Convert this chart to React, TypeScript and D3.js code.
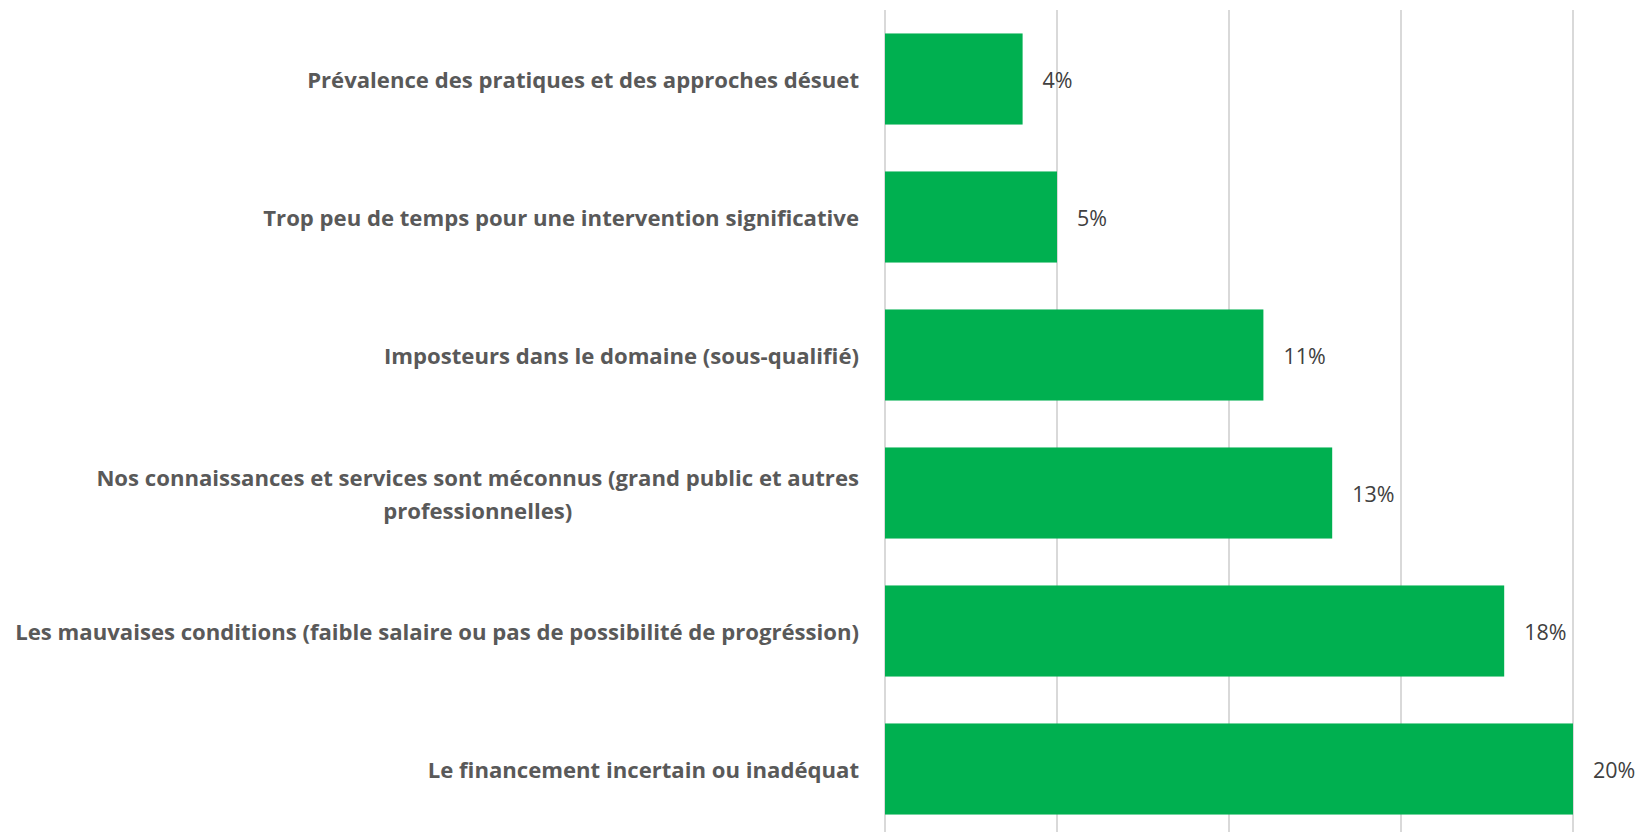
import React, { useEffect, useRef } from "react";
import * as d3 from "d3";

const categories: string[][] = [
  ["Prévalence des pratiques et des approches désuet"],
  ["Trop peu de temps pour une intervention significative"],
  ["Imposteurs dans le domaine (sous-qualifié)"],
  ["Nos connaissances et services sont méconnus (grand public et autres", "professionnelles)"],
  ["Les mauvaises conditions (faible salaire ou pas de possibilité de progréssion)"],
  ["Le financement incertain ou inadéquat"],
];
const values: number[] = [4, 5, 11, 13, 18, 20];
const xTicks: number[] = [0, 5, 10, 15, 20];

const W = 1648;
const H = 832;
const FONT = "'Open Sans', Lato, sans-serif";

export default function App() {
  const ref = useRef<SVGSVGElement>(null);
  useEffect(() => {
    document.body.style.margin = "0";
    const svg = d3.select(ref.current);
    svg.selectAll("*").remove();
    const x0 = 885, x1 = 1573;
    const x = d3.scaleLinear().domain([0, 20]).range([x0, x1]);
    const y = d3
      .scaleBand<number>()
      .domain(d3.range(categories.length))
      .range([10, 838])
      .paddingInner(0.34)
      .paddingOuter(0.17);

    svg
      .append("g")
      .selectAll("line")
      .data(xTicks)
      .join("line")
      .attr("x1", (d) => x(d))
      .attr("x2", (d) => x(d))
      .attr("y1", 10)
      .attr("y2", H)
      .attr("stroke", "#d9d9d9")
      .attr("stroke-width", 2);

    svg
      .append("g")
      .selectAll("rect")
      .data(values)
      .join("rect")
      .attr("x", x(0))
      .attr("y", (_, i) => y(i)!)
      .attr("width", (d) => x(d) - x(0))
      .attr("height", y.bandwidth())
      .attr("fill", "#00B050");

    const labelRight = 859;
    const target = 844; // measured width of the longest label in the reference
    const lineH = 33;
    const lg = svg.append("g");
    let fs = 21;
    const probe = svg
      .append("text")
      .attr("font-family", FONT)
      .attr("font-weight", "bold")
      .attr("font-size", fs)
      .text(categories[4][0]);
    const pw = (probe.node() as SVGTextElement).getComputedTextLength();
    probe.remove();
    fs = Math.max(18, Math.min(24, (fs * target) / pw));

    svg
      .append("g")
      .selectAll("text")
      .data(values)
      .join("text")
      .attr("x", (d) => x(d) + 20)
      .attr("y", (_, i) => y(i)! + y.bandwidth() / 2)
      .attr("dy", "0.42em")
      .attr("font-family", FONT)
      .attr("font-size", fs * 0.97)
      .attr("fill", "#404040")
      .text((d) => `${d}%`);

    categories.forEach((lines, i) => {
      const cy = y(i)! + y.bandwidth() / 2;
      const g = lg.append("g");
      const texts = lines.map((ln, k) =>
        g
          .append("text")
          .attr("y", cy + (k - (lines.length - 1) / 2) * lineH)
          .attr("dy", "0.42em")
          .attr("font-family", FONT)
          .attr("font-weight", "bold")
          .attr("font-size", fs)
          .attr("fill", "#595959")
          .attr("text-anchor", "middle")
          .text(ln)
      );
      const widths = texts.map((t) => (t.node() as SVGTextElement).getComputedTextLength());
      const bw = Math.max(...widths);
      texts.forEach((t) => t.attr("x", labelRight - bw / 2));
    });
  }, []);
  return <svg ref={ref} width={W} height={H} style={{ display: "block", background: "#fff" }} />;
}
